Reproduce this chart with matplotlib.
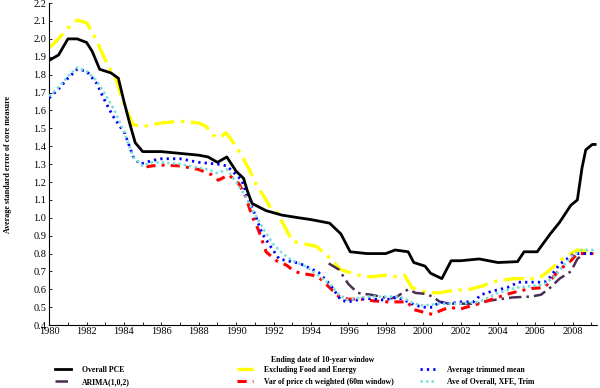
import numpy as np
import matplotlib.pyplot as plt

plt.rcParams['font.family'] = ['Liberation Serif', 'DejaVu Serif']

# Overall PCE
pce_x = [1980, 1980.5, 1981, 1981.5, 1982, 1982.3, 1982.7, 1983.3, 1983.7, 1984.0, 1984.3, 1984.6,
         1985, 1986, 1987, 1988, 1988.5, 1989, 1989.5, 1990, 1990.4, 1990.6, 1990.85, 1991.6, 1992.45,
         1993.35, 1994, 1995, 1995.6, 1996.1, 1997, 1998, 1998.5, 1999.2, 1999.5, 2000.1, 2000.4,
         2001, 2001.5, 2002, 2003, 2004, 2005.05, 2005.4, 2006.1, 2006.8, 2007.3, 2007.9, 2008.25,
         2008.5, 2008.7, 2009.05, 2009.2]
pce_y = [1.88, 1.91, 2.0, 2.0, 1.98, 1.93, 1.83, 1.81, 1.78, 1.65, 1.53, 1.42,
         1.37, 1.37, 1.36, 1.35, 1.34, 1.31, 1.34, 1.26, 1.22, 1.15, 1.08, 1.04, 1.015,
         1.0, 0.99, 0.97, 0.91, 0.81, 0.80, 0.80, 0.82, 0.81, 0.75, 0.73, 0.69,
         0.66, 0.76, 0.76, 0.77, 0.75, 0.755, 0.81, 0.81, 0.91, 0.975, 1.07, 1.10,
         1.28, 1.38, 1.41, 1.41]

# Excluding Food and Energy
xfe_x = [1980, 1980.5, 1981, 1981.5, 1982, 1982.35, 1983.1, 1983.6, 1984.0, 1984.5, 1985, 1986,
         1987, 1988, 1988.4, 1988.8, 1989.1, 1989.45, 1990, 1990.7, 1991.05, 1991.6, 1991.9,
         1992.2, 1992.8, 1993.0, 1993.4, 1994.3, 1994.95, 1995.6, 1996.5, 1997.2, 1998.1, 1998.6,
         1999.0, 1999.4, 2000.1, 2000.8, 2001.7, 2002.5, 2003.2, 2004.0, 2004.9, 2005.8, 2006.3,
         2006.8, 2007.3, 2007.9, 2008.25, 2009.1]
xfe_y = [1.95, 2.0, 2.06, 2.105, 2.09, 2.03, 1.86, 1.77, 1.63, 1.52, 1.51, 1.53,
         1.54, 1.53, 1.51, 1.46, 1.445, 1.475, 1.40, 1.27, 1.19, 1.10, 1.045,
         1.03, 0.91, 0.87, 0.86, 0.84, 0.78, 0.71, 0.68, 0.67, 0.68, 0.67,
         0.68, 0.61, 0.585, 0.58, 0.595, 0.60, 0.62, 0.65, 0.66, 0.66, 0.67,
         0.71, 0.76, 0.80, 0.82, 0.81]

# Average trimmed mean
trim_x = [1980, 1980.5, 1981, 1981.5, 1982, 1982.55, 1982.9, 1983.4, 1984.05, 1984.5, 1984.85, 1985.5,
          1986, 1987, 1988, 1989, 1989.5, 1990, 1990.3, 1990.6, 1991.0, 1991.4, 1991.9, 1992.3,
          1993.4, 1993.9, 1994.4, 1995.0, 1995.6, 1996.0, 1996.9, 1997.9, 1998.6, 1999.0, 1999.6,
          2000.1, 2000.5, 2000.9, 2001.4, 2002.0, 2002.7, 2003.1, 2003.7, 2004.5, 2005.1, 2005.8,
          2006.5, 2006.8, 2007.3, 2007.7, 2008.1, 2008.7, 2009.1]
trim_y = [1.67, 1.72, 1.78, 1.83, 1.82, 1.75, 1.67, 1.57, 1.47, 1.34, 1.30, 1.32,
          1.33, 1.33, 1.31, 1.30, 1.29, 1.24, 1.21, 1.12, 1.02, 0.91, 0.83, 0.77,
          0.745, 0.72, 0.695, 0.63, 0.54, 0.53, 0.55, 0.54, 0.555, 0.54, 0.51,
          0.50, 0.50, 0.53, 0.52, 0.53, 0.53, 0.57, 0.59, 0.61, 0.64, 0.64,
          0.64, 0.67, 0.74, 0.77, 0.80, 0.80, 0.80]

# ARIMA(1,0,2)
arima_x = [1994.95, 1995.5, 1996.0, 1996.5, 1997.2, 1997.9, 1998.3, 1998.6, 1999.2, 1999.6, 2000.1,
           2000.5, 2000.9, 2001.4, 2002.3, 2002.9, 2003.4, 2004.1, 2004.8, 2005.8, 2006.3, 2006.8,
           2007.3, 2007.9, 2008.25, 2008.6, 2009.1]
arima_y = [0.745, 0.71, 0.63, 0.58, 0.57, 0.555, 0.55, 0.56, 0.60, 0.58, 0.575,
           0.56, 0.53, 0.52, 0.52, 0.52, 0.535, 0.545, 0.555, 0.56, 0.57, 0.61,
           0.66, 0.70, 0.77, 0.80, 0.80]

# Var of price ch weighted (60m window)
var_x = [1985.2, 1985.5, 1986, 1987, 1988, 1988.7, 1989.05, 1989.6, 1990.15, 1990.5, 1990.85, 1991.2,
         1991.6, 1992.15, 1992.7, 1993.0, 1993.4, 1994.05, 1994.4, 1995.0, 1995.5, 1996.0, 1996.75,
         1997.4, 1998.1, 1998.6, 1999.2, 1999.4, 2000.1, 2000.5, 2000.9, 2001.4, 2002.0, 2002.3,
         2003.0, 2003.7, 2004.4, 2005.1, 2005.8, 2006.5, 2006.8, 2007.3, 2007.9, 2008.25, 2009.1]
var_y = [1.285, 1.29, 1.295, 1.29, 1.27, 1.24, 1.21, 1.24, 1.19, 1.12, 1.01, 0.93,
         0.81, 0.76, 0.735, 0.71, 0.69, 0.68, 0.67, 0.61, 0.56, 0.545, 0.545,
         0.535, 0.53, 0.53, 0.53, 0.49, 0.47, 0.46, 0.48, 0.50, 0.49, 0.50,
         0.52, 0.545, 0.57, 0.59, 0.605, 0.61, 0.65, 0.71, 0.76, 0.80, 0.80]

# Ave of Overall, XFE, Trim
ave_x = [1980, 1980.5, 1981, 1981.5, 1982, 1982.5, 1983, 1983.5, 1984, 1984.5, 1985, 1985.5,
         1986, 1987, 1988, 1988.5, 1989, 1989.5, 1990, 1990.5, 1991, 1991.5, 1992, 1992.5,
         1993, 1993.5, 1994, 1995, 1995.5, 1996, 1997, 1998, 1998.6, 1999, 1999.5, 2000,
         2001, 2002, 2003, 2004, 2005, 2006, 2006.5, 2007, 2007.5, 2008, 2008.5, 2009.2]
ave_y = [1.68, 1.73, 1.79, 1.84, 1.82, 1.77, 1.69, 1.60, 1.48, 1.34, 1.29, 1.31,
         1.31, 1.30, 1.28, 1.27, 1.25, 1.27, 1.20, 1.12, 1.02, 0.93, 0.85, 0.80,
         0.76, 0.74, 0.71, 0.63, 0.57, 0.54, 0.56, 0.56, 0.56, 0.55, 0.52, 0.51,
         0.52, 0.52, 0.53, 0.58, 0.61, 0.62, 0.63, 0.67, 0.73, 0.79, 0.82, 0.82]

fig = plt.figure(figsize=(6, 3.88), dpi=100)
ax = fig.add_axes([0.082, 0.162, 0.913, 0.83])

l_xfe, = ax.plot(xfe_x, xfe_y, color='#ffff00', lw=2.4, ls=(0, (6, 2, 1, 2)), zorder=2)
l_pce, = ax.plot(pce_x, pce_y, color='black', lw=2.0, zorder=5)
l_arima, = ax.plot(arima_x, arima_y, color='#4b2e52', lw=1.8, ls=(0, (5, 2, 1, 2)), zorder=3)
l_var, = ax.plot(var_x, var_y, color='#ff0000', lw=2.2, ls=(0, (3, 2, 1, 2)), zorder=3)
l_trim, = ax.plot(trim_x, trim_y, color='#0000ff', lw=2.0, ls=(0, (0.8, 1.5)), zorder=4)
l_ave, = ax.plot(ave_x, ave_y, color='#77dddd', lw=1.8, ls=(0, (1, 1.2)), zorder=4)

ax.set_xlim(1980, 2009.3)
ax.set_ylim(0.4, 2.2)
ax.set_xticks(np.arange(1980, 2009, 2))
ax.set_xticks(np.arange(1980, 2010, 1), minor=True)
ax.set_yticks(np.round(np.arange(0.4, 2.21, 0.1), 1))
ax.yaxis.set_major_formatter(plt.FormatStrFormatter('%.1f'))
ax.tick_params(which='both', direction='in', length=2, width=0.6, labelsize=7.5, pad=2)
ax.tick_params(axis='x', pad=1)

ax.spines['top'].set_visible(False)
ax.spines['right'].set_visible(False)
ax.spines['left'].set_linewidth(0.8)
ax.spines['bottom'].set_linewidth(0.8)
ax.spines['bottom'].set_linestyle((0, (1, 1)))

fig.text(0.538, 1 - 360 / 388, 'Ending date of 10-year window', fontsize=5.6,
         fontweight='bold', ha='center', va='center')
fig.text(0.014, 1 - 164 / 388, 'Average standard error of core measure', fontsize=5.8,
         fontweight='bold', ha='center', va='center', rotation=90)

groups = [
    ([l_pce, l_arima], ['Overall PCE', 'ARIMA(1,0,2)'], 55),
    ([l_xfe, l_var], ['Excluding Food and Energy', 'Var of price ch weighted (60m window)'], 237),
    ([l_trim, l_ave], ['Average trimmed mean', 'Ave of Overall, XFE, Trim'], 420),
]
for hs, labs, xpx in groups:
    fig.legend(hs, labs, loc='upper left', bbox_to_anchor=(xpx / 600, 1 - 366 / 388),
               frameon=False, prop={'weight': 'bold', 'size': 5.6}, handlelength=2.1,
               handletextpad=1.4, labelspacing=0.5, borderaxespad=0, borderpad=0)

fig.savefig('out.png', dpi=100)
